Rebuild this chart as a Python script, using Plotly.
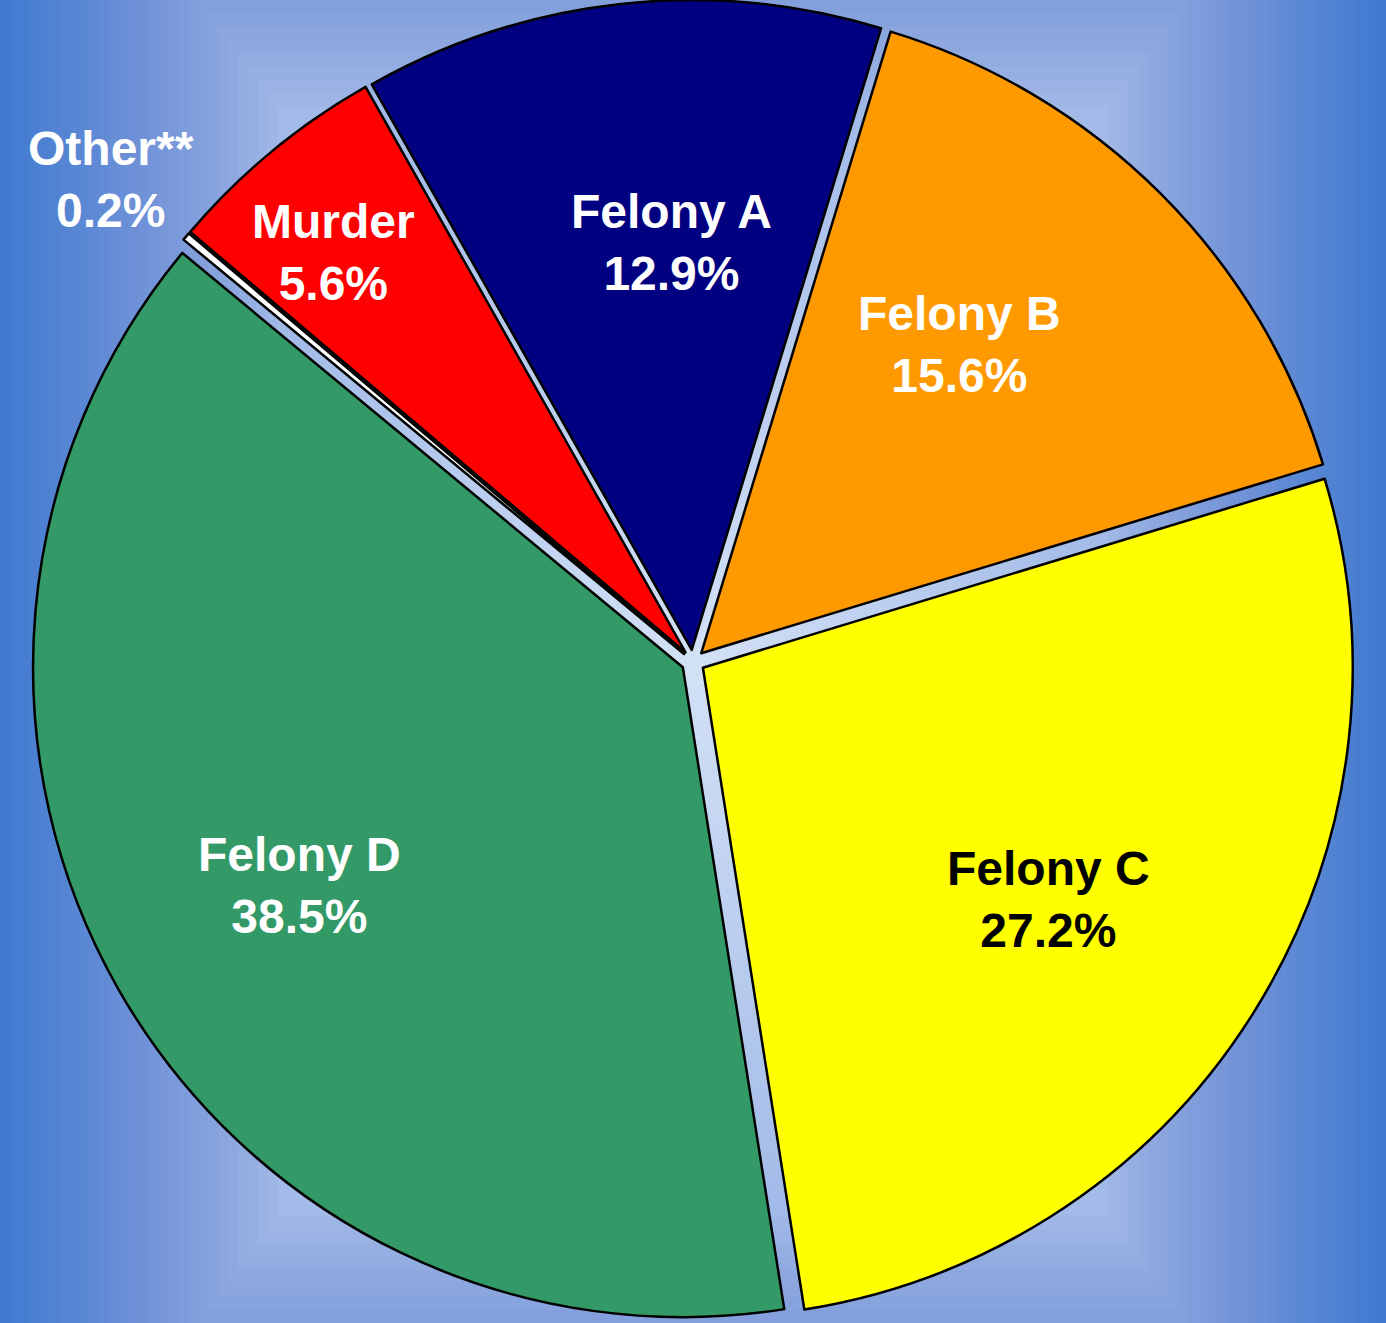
"""
Pie chart of cases by offense class, on a blue gradient backdrop
"""
import math
import plotly.graph_objects as go

# data
labels = ["Felony A", "Felony B", "Felony C", "Felony D", "Other**", "Murder"]
values = [12.9, 15.6, 27.2, 38.5, 0.2, 5.6]
pct_text = ["12.9%", "15.6%", "27.2%", "38.5%", "0.2%", "5.6%"]

# styling
slice_colors = ["#000080", "#ff9900", "#ffff00", "#339966", "#ffffff", "#ff0000"]
text_colors = ["white", "white", "black", "white", "white", "white"]
label_r = [0.646, 0.638, 0.658, 0.697, 1.163, 0.838]   # distance from centre, in radii
label_nudge = [3.3, -5.0, 1.8, 0.1, -0.4, -1.8]        # degrees off the bisector

W, H = 1386, 1323
rotation = -29.5
pull = 0.018
font_family = "Liberation Sans, Arial, sans-serif"

# background gradient stops (t = 0 centre, 1 = edge)
grad_stops = [
    (0.0, (212, 226, 246)),
    (0.6, (162, 186, 232)),
    (0.68, (140, 166, 222)),
    (0.8, (112, 146, 216)),
    (1.0, (64, 122, 208)),
]


def grad_color(t):
    for (t0, c0), (t1, c1) in zip(grad_stops[:-1], grad_stops[1:]):
        if t <= t1:
            k = (t - t0) / (t1 - t0)
            c = [round(a + (b - a) * k) for a, b in zip(c0, c1)]
            return f"rgb({c[0]},{c[1]},{c[2]})"
    c = grad_stops[-1][1]
    return f"rgb({c[0]},{c[1]},{c[2]})"


fig = go.Figure(go.Pie(
    labels=labels,
    values=values,
    sort=False,
    direction="clockwise",
    rotation=rotation,
    pull=pull,
    marker=dict(colors=slice_colors, line=dict(color="black", width=2.5)),
    textinfo="none",
    hoverinfo="skip",
    domain=dict(x=[0, 1], y=[0, 1]),
))

# rectangular gradient built from nested rectangles
shapes = []
steps = 70
aspect = 1.4
for i in range(steps, 0, -1):
    t = i / steps
    shapes.append(dict(
        type="rect", xref="paper", yref="paper", layer="below",
        x0=0.5 - 0.5 * t, x1=0.5 + 0.5 * t,
        y0=0.5 - 0.5 * aspect * t, y1=0.5 + 0.5 * aspect * t,
        fillcolor=grad_color(t), line=dict(width=0),
    ))

# labels placed along each slice's bisector
r = min(W, H) / (2 + 2 * pull)
cx, cy = W / 2, H / 2
total = sum(values)
annotations = []
cum = 0
for i, v in enumerate(values):
    theta = math.radians(rotation + 360 * (cum + v / 2) / total + label_nudge[i])
    cum += v
    px = cx + label_r[i] * r * math.sin(theta)
    py = cy - label_r[i] * r * math.cos(theta)
    annotations.append(dict(
        x=px / W, y=1 - py / H, xref="paper", yref="paper",
        text=f"<b>{labels[i]}<br>{pct_text[i]}</b>",
        showarrow=False, xanchor="center", yanchor="middle",
        font=dict(family=font_family, size=48, color=text_colors[i]),
    ))

fig.update_layout(
    width=W,
    height=H,
    margin=dict(l=0, r=0, t=0, b=0),
    showlegend=False,
    paper_bgcolor=grad_color(1.0),
    plot_bgcolor=grad_color(1.0),
    shapes=shapes,
    annotations=annotations,
)

fig.write_html(
    "out.html",
    config={"displayModeBar": False},
    post_script="document.body.style.margin='0';document.body.style.overflow='hidden';",
)
